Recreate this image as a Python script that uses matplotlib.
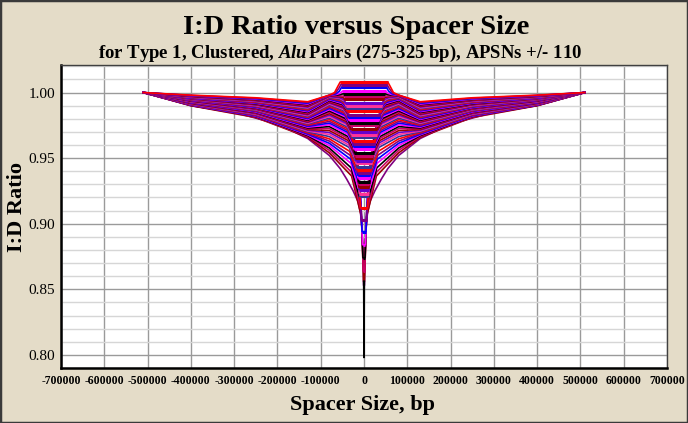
import matplotlib.pyplot as plt
from matplotlib.patches import Rectangle

plt.rcParams['font.family'] = 'Liberation Serif'
plt.rcParams['mathtext.fontset'] = 'custom'
plt.rcParams['mathtext.it'] = 'Liberation Serif:bold:italic'
plt.rcParams['mathtext.rm'] = 'Liberation Serif:bold'

# one entry per fan series, top (k=0) to bottom
center_ratio = [1.008, 1.006, 1.004, 1.001, 0.999, 0.997, 0.995, 0.992, 0.990, 0.988,
                0.986, 0.983, 0.981, 0.979, 0.977, 0.975, 0.972, 0.970, 0.968, 0.966,
                0.963, 0.961, 0.959, 0.957, 0.954, 0.952, 0.950, 0.948, 0.946, 0.943,
                0.941, 0.939, 0.937, 0.935, 0.932, 0.930, 0.928, 0.926, 0.923, 0.921,
                0.912, 0.903, 0.894, 0.884, 0.874, 0.864, 0.856]
flat_half_width = [55000, 53500, 52000, 50000, 48500, 47000, 45500, 43500, 42000, 40500,
                   39500, 37500, 36500, 35000, 34000, 33000, 31000, 30000, 29000, 28000,
                   26500, 25500, 24500, 23500, 22000, 21000, 20000, 19000, 18000, 17000,
                   16000, 15000, 14500, 14000, 13000, 12500, 12000, 11500, 10500, 10000,
                   8000, 6000, 4500, 3300, 2400, 1700, 1000]
bend1_x = [60000, 58500, 57000, 55000, 54000, 49000, 47600, 45700, 44300, 42900,
           41900, 40100, 39100, 37700, 36800, 35800, 33900, 33000, 32100, 31100,
           29700, 28800, 27800, 26900, 25500, 24500, 23600, 22700, 21700, 20800,
           19800, 18900, 18400, 18000, 17000, 16600, 16100, 15600, 14700, 14200,
           12300, 10400, 9000, 7900, 7100, 6400, 5700]
bend1_ratio = [1.005, 1.003, 1.001, 0.9995, 0.9985, 0.9973, 0.9962, 0.9945, 0.9934, 0.9922,
               0.9910, 0.9893, 0.9880, 0.9868, 0.9855, 0.9842, 0.9824, 0.9810, 0.9797, 0.9783,
               0.9764, 0.9749, 0.9735, 0.9720, 0.9700, 0.9685, 0.9670, 0.9654, 0.9639, 0.9618,
               0.9602, 0.9585, 0.9569, 0.9552, 0.9530, 0.9513, 0.9495, 0.9478, 0.9455, 0.9437,
               0.9384, 0.9330, 0.9277, 0.9218, 0.9159, 0.9100, 0.9050]
bend2_x = [68000, 66500, 65000, 64000, 63000, 58600, 57600, 56300, 55300, 54300,
           53700, 52400, 51700, 50800, 50100, 49500, 48200, 47500, 46900, 46200,
           45200, 44600, 43900, 43300, 42300, 41700, 41000, 40400, 39700, 39100,
           38400, 37800, 37400, 37100, 36500, 36100, 35800, 35500, 34800, 34500,
           33200, 31900, 30900, 30100, 29600, 29100, 28700]
bend2_ratio = [1.000, 0.9995, 0.999, 0.9985, 0.998, 0.9974, 0.9969, 0.9961, 0.9955, 0.9948,
               0.9941, 0.9933, 0.9925, 0.9917, 0.9909, 0.9900, 0.9890, 0.9880, 0.9871, 0.9861,
               0.9849, 0.9838, 0.9827, 0.9816, 0.9802, 0.9791, 0.9778, 0.9765, 0.9753, 0.9738,
               0.9724, 0.9710, 0.9696, 0.9681, 0.9664, 0.9649, 0.9633, 0.9617, 0.9599, 0.9582,
               0.9552, 0.9522, 0.9492, 0.9460, 0.9426, 0.9394, 0.9364]
shoulder_ratio = [0.998, 0.998, 0.9979, 0.9978, 0.9977, 0.9975, 0.9973, 0.997, 0.9967, 0.9963,
                  0.9959, 0.9955, 0.995, 0.9945, 0.9939, 0.9933, 0.9927, 0.992, 0.9913, 0.9905,
                  0.9897, 0.9888, 0.9879, 0.987, 0.986, 0.985, 0.9839, 0.9828, 0.9817, 0.9805,
                  0.9793, 0.978, 0.9767, 0.9754, 0.974, 0.9725, 0.971, 0.9695, 0.968, 0.9664,
                  0.9647, 0.963, 0.9613, 0.9596, 0.9577, 0.9559, 0.954]
wing_130k = [0.993, 0.9924, 0.9918, 0.9912, 0.9907, 0.9901, 0.9895, 0.9889, 0.9883, 0.9877,
             0.9871, 0.9865, 0.9860, 0.9854, 0.9848, 0.9842, 0.9836, 0.9830, 0.9824, 0.9818,
             0.9813, 0.9807, 0.9801, 0.9795, 0.9789, 0.9783, 0.9777, 0.9772, 0.9766, 0.9760,
             0.9754, 0.9748, 0.9742, 0.9736, 0.9730, 0.9725, 0.9719, 0.9713, 0.9707, 0.9701,
             0.9695, 0.9689, 0.9683, 0.9678, 0.9672, 0.9666, 0.966]
wing_250k = [0.996, 0.9957, 0.9953, 0.995, 0.9947, 0.9944, 0.994, 0.9937, 0.9934, 0.9931,
             0.9927, 0.9924, 0.9921, 0.9918, 0.9914, 0.9911, 0.9908, 0.9905, 0.9901, 0.9898,
             0.9895, 0.9892, 0.9888, 0.9885, 0.9882, 0.9878, 0.9875, 0.9872, 0.9869, 0.9865,
             0.9862, 0.9859, 0.9856, 0.9852, 0.9849, 0.9846, 0.9843, 0.9839, 0.9836, 0.9833,
             0.983, 0.9826, 0.9823, 0.982, 0.9817, 0.9813, 0.981]
wing_400k = [0.998, 0.9978, 0.9977, 0.9975, 0.9973, 0.9971, 0.997, 0.9968, 0.9966, 0.9964,
             0.9963, 0.9961, 0.9959, 0.9957, 0.9956, 0.9954, 0.9952, 0.995, 0.9949, 0.9947,
             0.9945, 0.9943, 0.9942, 0.994, 0.9938, 0.9937, 0.9935, 0.9933, 0.9931, 0.993,
             0.9928, 0.9926, 0.9924, 0.9923, 0.9921, 0.9919, 0.9917, 0.9916, 0.9914, 0.9912,
             0.991, 0.9909, 0.9907, 0.9905, 0.9903, 0.9902, 0.99]
shoulder_x = 80000
wing_x = [130000, 250000, 400000]
tip_x, tip_ratio = 510000, 1.000

# lowest series (outline of the funnel), half side
envelope_x = [1000, 2500, 5000, 8000, 14000, 25000, 40000, 55000, 80000,
              130000, 200000, 300000, 400000, 510000]
envelope_ratio = [0.853, 0.878, 0.898, 0.908, 0.917, 0.925, 0.934, 0.942, 0.952,
                  0.965, 0.976, 0.985, 0.990, 1.000]

spike_x = [-700, 0, 700]
spike_ratio = [0.856, 0.798, 0.856]

palette = ['#ff0000', '#800080', '#0000ff', '#ff00ff', '#000000',
           '#cc0066', '#990000', '#6600cc', '#ff3399', '#333399']


def mirror(xs, ys):
    return [-v for v in xs[::-1]] + list(xs), list(ys[::-1]) + list(ys)


fig = plt.figure(figsize=(6.88, 4.23), dpi=100, facecolor='#e4dcc8')
ax = fig.add_axes([61 / 688, 55 / 423, 606 / 688, 303 / 423])
ax.set_facecolor('white')

n = len(center_ratio)
hx, hy = mirror(envelope_x, envelope_ratio)
ax.plot(hx, hy, color='#800080', lw=1.2)
for k in range(n - 1, -1, -1):
    half_x = [flat_half_width[k], bend1_x[k], bend2_x[k], shoulder_x] + wing_x + [tip_x]
    half_y = [center_ratio[k], bend1_ratio[k], bend2_ratio[k], shoulder_ratio[k],
              wing_130k[k], wing_250k[k], wing_400k[k], tip_ratio]
    xs, ys = mirror(half_x, half_y)
    ax.plot(xs, ys, color=palette[k % len(palette)], lw=1.2)
# the flat middle stretch of each series is packed tight; draw it a bit heavier
for k in range(n - 1, -1, -1):
    ax.plot([-flat_half_width[k], flat_half_width[k]], [center_ratio[k]] * 2,
            color=palette[k % len(palette)], lw=2.2, solid_capstyle='butt')
ax.plot(spike_x, spike_ratio, color='black', lw=1.2)

ax.set_xlim(-700000, 700000)
ax.set_ylim(0.79, 1.021)
xt = list(range(-700000, 700001, 100000))
ax.set_xticks(xt)
ax.set_xticklabels([str(v) for v in xt], fontsize=8.5, fontweight='bold')
ax.set_yticks([0.80, 0.85, 0.90, 0.95, 1.00])
ax.set_yticklabels(['0.80', '0.85', '0.90', '0.95', '1.00'], fontsize=11)
ax.set_yticks([0.79 + 0.01 * i for i in range(24)], minor=True)
ax.tick_params(which='both', length=0)
ax.tick_params(axis='x', pad=5)
ax.tick_params(axis='y', pad=4)
ax.grid(which='major', color='#9a9a9a', lw=1.0)
ax.grid(which='minor', axis='y', color='#d6d6d6', lw=1.0)
ax.set_axisbelow(True)
for s in ['left', 'bottom']:
    ax.spines[s].set_linewidth(1.8)
    ax.spines[s].set_color('black')
for s in ['top', 'right']:
    ax.spines[s].set_linewidth(1.0)
    ax.spines[s].set_color('#404040')

fig.text(0.518, 1 - 34 / 423, 'I:D Ratio versus Spacer Size', ha='center', va='baseline',
         fontsize=20.5, fontweight='bold')
fig.text(0.494, 1 - 58 / 423,
         r'for Type 1, Clustered, $\mathit{Alu}\,$Pairs (275-325 bp), APSNs +/- 110',
         ha='center', va='baseline', fontsize=13.5, fontweight='bold')
fig.text(362 / 688, 1 - 405 / 423, 'Spacer Size, bp', ha='center', va='center',
         fontsize=16, fontweight='bold')
fig.text(17 / 688, 1 - 207 / 423, 'I:D Ratio', ha='center', va='center', rotation=90,
         fontsize=16, fontweight='bold')

fig.patches.append(Rectangle((0, 0), 1, 1, transform=fig.transFigure, fill=False,
                             edgecolor='#3a3a3a', lw=2.5))

fig.savefig('out.png', dpi=100, facecolor=fig.get_facecolor())
